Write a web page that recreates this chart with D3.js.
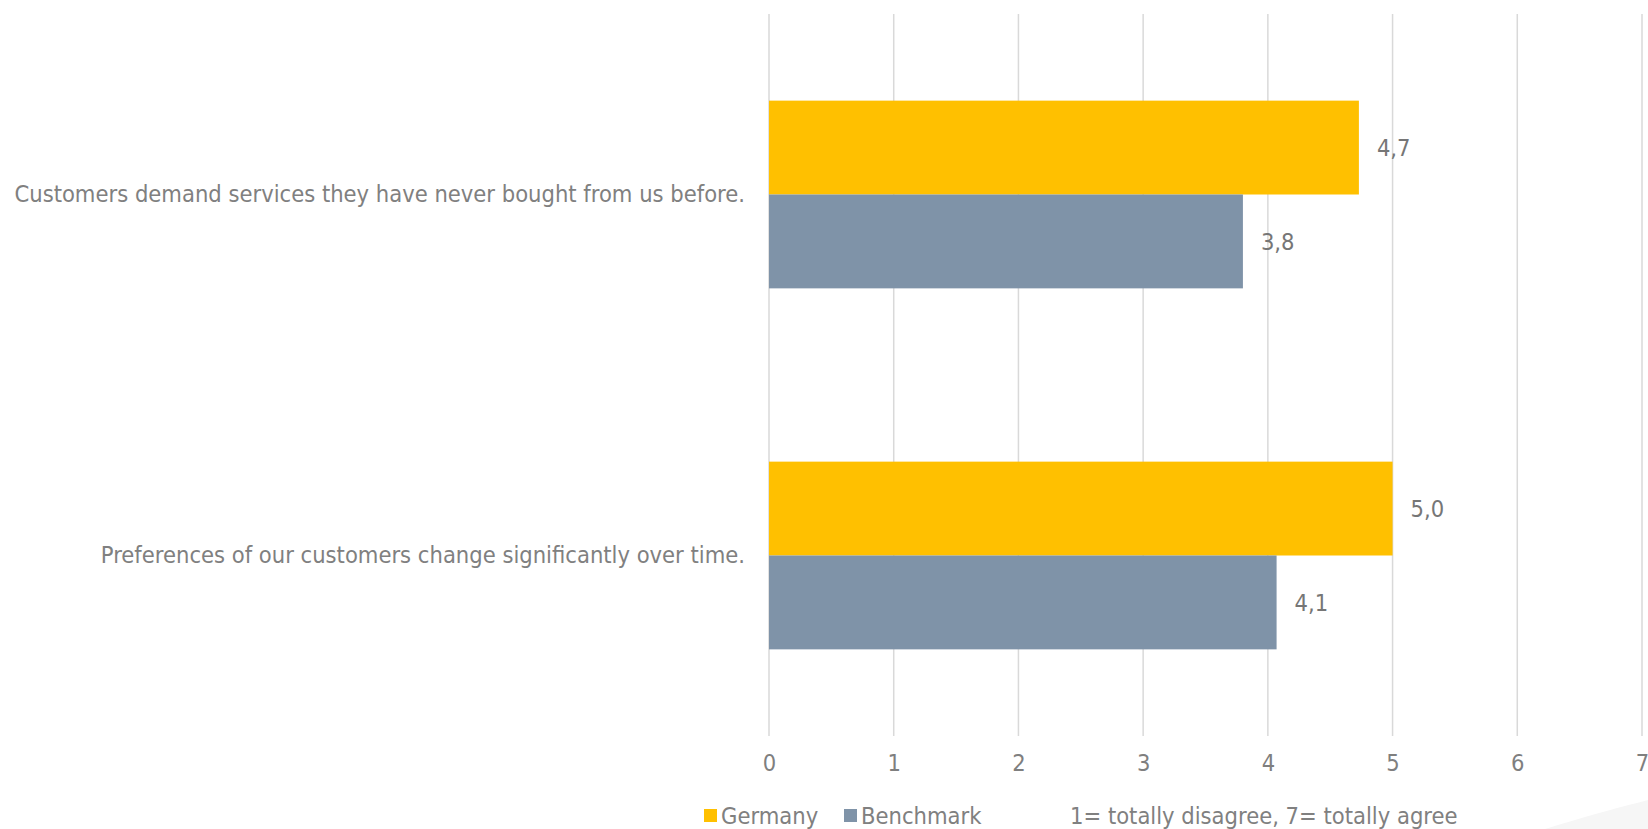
<!DOCTYPE html>
<html>
<head>
<meta charset="utf-8">
<script src="https://cdn.jsdelivr.net/npm/d3@7"></script>
<style>
  html, body { margin: 0; padding: 0; background: #ffffff; }
  svg { display: block; }
  text { font-family: "DejaVu Sans Condensed", "DejaVu Sans", sans-serif; }
</style>
</head>
<body>
<svg id="chart" width="1648" height="829"></svg>
<script>
const categories = [
  "Customers demand services they have never bought from us before.",
  "Preferences of our customers change significantly over time."
];
const seriesNames = ["Germany", "Benchmark"];
const germanyValues = [4.73, 5.0];
const benchmarkValues = [3.80, 4.07];
const tickValues = [0, 1, 2, 3, 4, 5, 6, 7];
const scaleNote = "1= totally disagree, 7= totally agree";
const colors = ["#FFC000", "#7F93A8"];

(function () {
const svg = d3.select("#chart");
const plotLeft = 769, plotRight = 1642, plotTop = 14, plotBottom = 736;
const fs = "23.5px";

const x = d3.scaleLinear().domain([0, 7]).range([plotLeft, plotRight]);
const y = d3.scaleBand().domain(categories).range([plotTop, plotBottom]).paddingInner(0.48).paddingOuter(0.24);
const ySub = d3.scaleBand().domain(seriesNames).range([0, y.bandwidth()]).padding(0);

const loc = d3.formatLocale({decimal: ",", thousands: ".", grouping: [3], currency: ["", "€"]});
const fmt = loc.format(".1f");

// faint decoration bottom-right
svg.append("path")
  .attr("d", "M1545,829 C1590,815 1625,806 1648,800 L1648,829 Z")
  .attr("fill", "#f6f6f6");

// gridlines
svg.append("g").selectAll("line").data(tickValues).join("line")
  .attr("x1", d => x(d)).attr("x2", d => x(d))
  .attr("y1", plotTop).attr("y2", plotBottom)
  .attr("stroke", "#d9d9d9").attr("stroke-width", 1.5);

// x axis tick labels
const xAxis = d3.axisBottom(x).tickValues(tickValues).tickSize(0).tickPadding(0).tickFormat(d3.format("d"));
const gx = svg.append("g").attr("transform", `translate(0,${plotBottom + 18})`).call(xAxis);
gx.select(".domain").remove();
gx.selectAll("text").attr("fill", "#7f7f7f").style("font-size", fs)
  .attr("dy", "0.71em");

// bars
const rows = categories.map((c, i) => ({cat: c, vals: [germanyValues[i], benchmarkValues[i]]}));
const groups = svg.append("g").selectAll("g").data(rows).join("g")
  .attr("transform", d => `translate(0,${y(d.cat)})`);

groups.selectAll("rect").data(d => d.vals.map((v, j) => ({name: seriesNames[j], v, j}))).join("rect")
  .attr("x", x(0))
  .attr("y", d => ySub(d.name))
  .attr("width", d => x(d.v) - x(0))
  .attr("height", ySub.bandwidth())
  .attr("fill", d => colors[d.j]);

groups.selectAll("text.val").data(d => d.vals.map((v, j) => ({name: seriesNames[j], v, j}))).join("text")
  .attr("class", "val")
  .attr("x", d => x(d.v) + 18)
  .attr("y", d => ySub(d.name) + ySub.bandwidth() / 2)
  .attr("dy", "0.35em")
  .attr("fill", "#767676")
  .style("font-size", fs)
  .text(d => fmt(d.v));

// category labels
const yAxis = d3.axisLeft(y).tickSize(0).tickPadding(0);
const gy = svg.append("g").attr("transform", `translate(${plotLeft - 24},0)`).call(yAxis);
gy.select(".domain").remove();
gy.selectAll("text").attr("fill", "#808080").style("font-size", fs);

// legend
const legend = svg.append("g").attr("transform", "translate(704,816)");
const legX = [0, 140];
seriesNames.forEach((n, i) => {
  legend.append("rect").attr("x", legX[i]).attr("y", -7).attr("width", 13).attr("height", 13).attr("fill", colors[i]);
  legend.append("text").attr("x", legX[i] + 17).attr("y", 0).attr("dy", "0.35em")
    .attr("fill", "#808080").style("font-size", fs).text(n);
});

svg.append("text").attr("x", 1070).attr("y", 816).attr("dy", "0.35em")
  .attr("fill", "#808080").style("font-size", fs).text(scaleNote);
})();
</script>
</body>
</html>
